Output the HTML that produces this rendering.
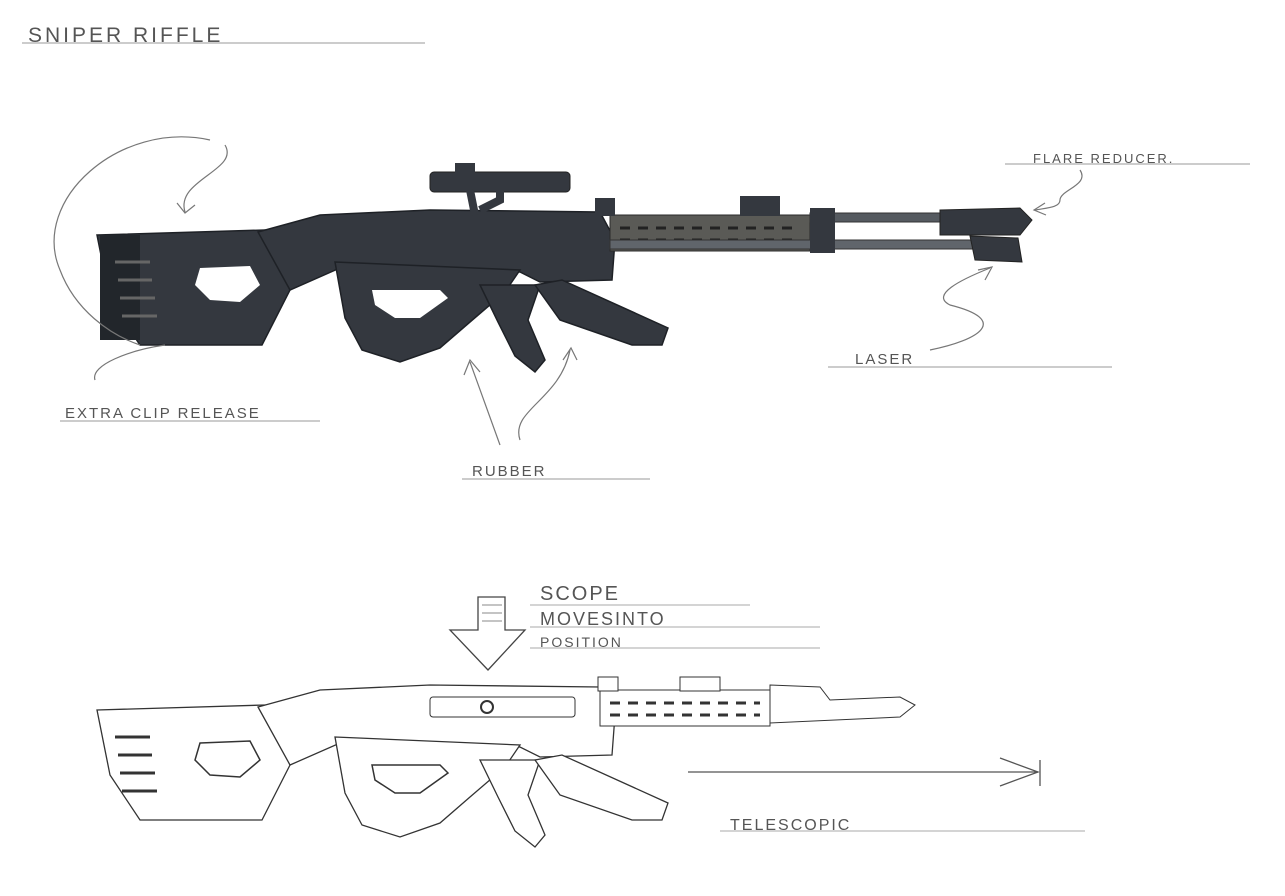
<!DOCTYPE html>
<html><head><meta charset="utf-8"><style>
html,body{margin:0;padding:0;background:#fff;}
svg{display:block}
text{font-family:"Liberation Sans",sans-serif;fill:#555;letter-spacing:2px;}
</style></head><body>
<svg width="1285" height="896" viewBox="0 0 1285 896" xmlns="http://www.w3.org/2000/svg">
<rect width="1285" height="896" fill="#fff"/>
<defs>
<g id="body">
  <polygon points="97,235 265,230 290,290 262,345 140,345 110,300"/>
  <polygon points="258,232 320,215 430,210 600,212 615,240 612,280 540,282 520,272 340,268 290,290"/>
  <polygon points="335,262 520,270 505,292 470,322 440,348 400,362 362,350 345,318"/>
  <polygon points="480,285 540,285 528,320 545,360 535,372 515,356 498,322"/>
  <polygon points="535,285 562,280 668,328 662,345 632,345 560,320"/>
</g>
<g id="holes">
  <polygon points="200,268 250,266 260,285 240,302 210,300 195,285" fill="#fff"/>
  <polygon points="372,290 440,290 448,298 420,318 395,318 375,305" fill="#fff"/>
</g>
</defs>

<!-- title -->
<text x="28" y="42" font-size="21" style="letter-spacing:3px">SNIPER RIFFLE</text>
<line x1="22" y1="43" x2="425" y2="43" stroke="#999" stroke-width="1"/>

<!-- top rifle -->
<g fill="#34383f" stroke="#1e2126" stroke-width="1.5"><use href="#body"/></g>
<use href="#holes"/>
<rect x="100" y="235" width="40" height="105" fill="#22262b"/>
<g stroke="#666" stroke-width="3"><line x1="115" y1="262" x2="150" y2="262"/><line x1="118" y1="280" x2="152" y2="280"/><line x1="120" y1="298" x2="155" y2="298"/><line x1="122" y1="316" x2="157" y2="316"/></g>
<rect x="610" y="215" width="200" height="36" fill="#5a5a56" stroke="#2a2a2a"/>
<g stroke="#222" stroke-width="3" stroke-dasharray="10,8"><line x1="620" y1="228" x2="800" y2="228"/><line x1="620" y1="240" x2="800" y2="240"/></g>
<rect x="810" y="213" width="135" height="9" fill="#555a60" stroke="#333"/>
<polygon points="940,210 1020,208 1032,220 1020,235 940,235" fill="#34383f" stroke="#222"/>
<rect x="610" y="240" width="400" height="9" fill="#60656b" stroke="#333"/>
<polygon points="970,236 1018,238 1022,262 975,260" fill="#34383f" stroke="#222"/>
<rect x="740" y="196" width="40" height="20" fill="#34383f"/>
<rect x="595" y="198" width="20" height="18" fill="#34383f"/>
<rect x="810" y="208" width="25" height="45" fill="#34383f"/>
<rect x="430" y="172" width="140" height="20" rx="4" fill="#34383f" stroke="#222"/>
<rect x="455" y="163" width="20" height="12" fill="#34383f"/>
<path d="M470,190 L475,215 M500,190 L500,200 L480,210" stroke="#34383f" stroke-width="8" fill="none"/>

<!-- annotation curves top -->
<g stroke="#777" stroke-width="1.2" fill="none">
<path d="M225,145 C240,170 175,180 185,212"/><path d="M177,203 L185,213 L195,205"/>
<path d="M210,140 C120,120 30,200 60,270 C75,310 110,335 140,345"/>
<path d="M165,345 C130,350 90,365 95,380"/>
<path d="M500,445 L470,362"/><path d="M464,375 L470,360 L480,372"/>
<path d="M520,440 C510,410 560,400 570,350"/><path d="M563,360 L571,348 L577,360"/>
<path d="M930,350 C980,340 1010,320 950,305 C930,295 960,280 990,268"/><path d="M978,270 L992,267 L985,280"/>
<path d="M1080,170 C1090,185 1060,190 1060,200 C1060,208 1045,208 1035,210"/><path d="M1045,203 L1034,210 L1046,215"/>
</g>
<text x="1033" y="163" font-size="13">FLARE REDUCER.</text>
<line x1="1005" y1="164" x2="1250" y2="164" stroke="#999"/>
<text x="855" y="364" font-size="15">LASER</text>
<line x1="828" y1="367" x2="1112" y2="367" stroke="#999"/>
<text x="65" y="418" font-size="15">EXTRA CLIP RELEASE</text>
<line x1="60" y1="421" x2="320" y2="421" stroke="#999"/>
<text x="472" y="476" font-size="15">RUBBER</text>
<line x1="462" y1="479" x2="650" y2="479" stroke="#999"/>

<!-- bottom labels -->
<text x="540" y="600" font-size="20">SCOPE</text>
<line x1="530" y1="605" x2="750" y2="605" stroke="#aaa"/>
<text x="540" y="625" font-size="18">MOVESINTO</text>
<line x1="530" y1="627" x2="820" y2="627" stroke="#aaa"/>
<text x="540" y="647" font-size="14">POSITION</text>
<line x1="530" y1="648" x2="820" y2="648" stroke="#aaa"/>
<polygon points="478,597 505,597 505,630 525,630 488,670 450,630 478,630" fill="#fff" stroke="#444" stroke-width="1.3"/>
<g stroke="#888"><line x1="482" y1="605" x2="502" y2="605"/><line x1="482" y1="613" x2="502" y2="613"/><line x1="482" y1="621" x2="502" y2="621"/></g>

<!-- bottom rifle outline -->
<g transform="translate(0,475)">
<g fill="#fff" stroke="#333" stroke-width="1.3"><use href="#body"/></g>
<g fill="#fff" stroke="#333" stroke-width="1.5">
<polygon points="200,268 250,266 260,285 240,302 210,300 195,285"/>
<polygon points="372,290 440,290 448,298 420,318 395,318 375,305"/></g>
<g stroke="#333" stroke-width="3"><line x1="115" y1="262" x2="150" y2="262"/><line x1="118" y1="280" x2="152" y2="280"/><line x1="120" y1="298" x2="155" y2="298"/><line x1="122" y1="316" x2="157" y2="316"/></g>
<rect x="600" y="215" width="170" height="36" fill="#fff" stroke="#333"/>
<g stroke="#333" stroke-width="3" stroke-dasharray="10,8"><line x1="610" y1="228" x2="760" y2="228"/><line x1="610" y1="240" x2="760" y2="240"/></g>
<polygon points="770,210 820,212 830,225 900,222 915,230 900,242 770,248" fill="#fff" stroke="#333"/>
<rect x="680" y="202" width="40" height="14" fill="#fff" stroke="#333"/>
<rect x="598" y="202" width="20" height="14" fill="#fff" stroke="#333"/>
<rect x="430" y="222" width="145" height="20" rx="3" fill="#fff" stroke="#333"/>
<circle cx="487" cy="232" r="6" fill="none" stroke="#333" stroke-width="2"/>
</g>
<g stroke="#555" stroke-width="1.3" fill="none">
<line x1="688" y1="772" x2="1038" y2="772"/>
<path d="M1000,758 L1038,772 L1000,786"/>
<line x1="1040" y1="760" x2="1040" y2="786"/>
</g>
<text x="730" y="830" font-size="16">TELESCOPIC</text>
<line x1="720" y1="831" x2="1085" y2="831" stroke="#aaa"/>
</svg>
</body></html>
